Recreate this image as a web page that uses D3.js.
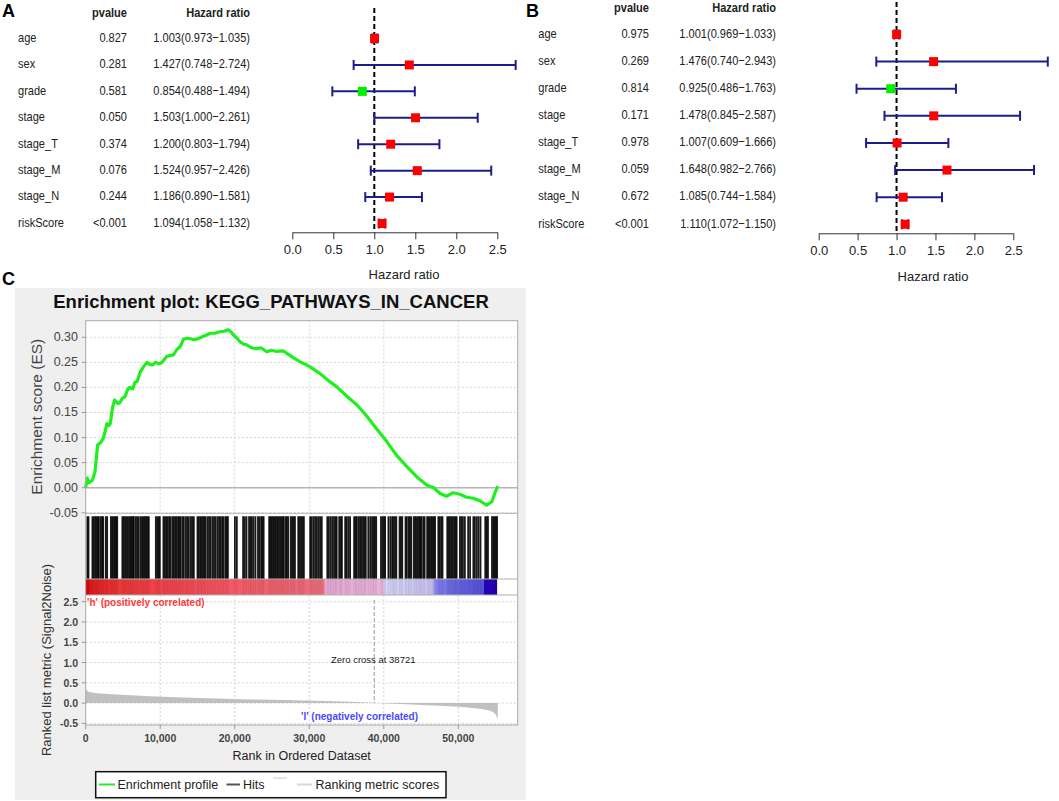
<!DOCTYPE html>
<html>
<head>
<meta charset="utf-8">
<script src="https://cdn.jsdelivr.net/npm/d3@7"></script>
<style>
  body { margin: 0; background: #fff; }
  text { font-family: "Liberation Sans", Arial, sans-serif; }
</style>
</head>
<body>
<div id="chart"></div>
<script>
// ---- forest plot data (panels A and B) ----
var factors = ["age", "sex", "grade", "stage", "stage_T", "stage_M", "stage_N", "riskScore"];

var pA    = ["0.827", "0.281", "0.581", "0.050", "0.374", "0.076", "0.244", "<0.001"];
var hrA   = [1.003, 1.427, 0.854, 1.503, 1.200, 1.524, 1.186, 1.094];
var lowA  = [0.973, 0.748, 0.488, 1.000, 0.803, 0.957, 0.890, 1.058];
var highA = [1.035, 2.724, 1.494, 2.261, 1.794, 2.426, 1.581, 1.132];

var pB    = ["0.975", "0.269", "0.814", "0.171", "0.978", "0.059", "0.672", "<0.001"];
var hrB   = [1.001, 1.476, 0.925, 1.478, 1.007, 1.648, 1.085, 1.110];
var lowB  = [0.969, 0.740, 0.486, 0.845, 0.609, 0.982, 0.744, 1.072];
var highB = [1.033, 2.943, 1.763, 2.587, 1.666, 2.766, 1.584, 1.150];

var hrTicks = [0, 0.5, 1, 1.5, 2, 2.5];

// ---- GSEA data (panel C), ranks in thousands ----
var esRank = [0, 0.2, 0.45, 0.6, 0.9, 1.25, 1.5, 1.6, 2.0, 2.4, 2.6, 2.85, 3.1, 3.3, 3.6, 3.9, 4.3, 4.6, 4.9, 5.3,
  5.6, 5.9, 6.3, 6.6, 6.9, 7.3, 7.7, 8.2, 8.6, 9.0, 9.4, 9.8, 10.2, 10.9, 11.4, 11.8, 12.2, 12.7, 13.1, 13.6,
  14.1, 14.6, 15.2, 15.8, 16.3, 16.7, 17.3, 18.0, 18.6, 19.1, 19.5, 19.8, 20.3, 20.7, 21.2, 21.6, 22.1, 22.5,
  23.0, 23.5, 24.3, 24.9, 25.5, 26.5, 27.3, 28.0, 28.8, 29.5, 30.1, 31.4, 32.8, 33.7, 35.0, 36.4, 37.7, 39.0,
  40.4, 41.7, 43.1, 44.4, 45.8, 46.7, 47.5, 48.4, 49.3, 50.2, 51.1, 52.0, 52.9, 53.8, 54.5, 54.9, 55.3];
var esValue = [0.000, 0.019, 0.010, 0.012, 0.015, 0.032, 0.070, 0.085, 0.090, 0.100, 0.112, 0.128, 0.124, 0.128,
  0.160, 0.175, 0.168, 0.170, 0.178, 0.182, 0.195, 0.200, 0.197, 0.210, 0.212, 0.230, 0.240, 0.250, 0.246, 0.245,
  0.250, 0.247, 0.249, 0.262, 0.264, 0.265, 0.275, 0.282, 0.296, 0.298, 0.297, 0.295, 0.298, 0.302, 0.305, 0.308,
  0.308, 0.311, 0.312, 0.315, 0.311, 0.305, 0.298, 0.291, 0.286, 0.285, 0.280, 0.278, 0.277, 0.279, 0.271, 0.274,
  0.272, 0.273, 0.265, 0.258, 0.251, 0.246, 0.241, 0.228, 0.211, 0.201, 0.183, 0.165, 0.143, 0.118, 0.092, 0.065,
  0.042, 0.022, 0.005, 0.000, -0.011, -0.017, -0.010, -0.013, -0.019, -0.021, -0.026, -0.035, -0.028, -0.011, 0.003];

var hitRanks = [0.22, 0.38, 0.90, 1.08, 1.27, 1.45, 1.62, 1.77, 2.02, 2.20, 2.35, 2.70, 2.88, 3.38, 3.55, 3.74,
  3.92, 4.08, 4.23, 4.92, 5.10, 5.28, 5.45, 5.66, 5.84, 6.02, 6.19, 6.35, 6.47, 6.73, 6.92, 7.13, 7.40, 7.58,
  7.77, 7.95, 8.12, 8.30, 8.47, 9.41, 9.60, 9.78, 9.95, 10.43, 10.62, 10.80, 11.00, 11.20, 11.39, 11.64, 11.83,
  12.02, 12.20, 12.40, 12.58, 12.74, 12.98, 13.17, 13.44, 13.64, 13.84, 14.11, 14.30, 14.51, 15.00, 15.18,
  15.37, 15.55, 15.74, 15.92, 16.08, 16.34, 16.55, 16.76, 17.01, 17.22, 17.43, 17.68, 17.90, 18.10,
  18.31, 18.50, 18.75, 18.92, 19.08, 20.02, 20.28, 21.12, 21.35, 21.58, 21.92, 22.10, 22.30, 22.52, 22.78,
  23.12, 23.32, 23.55, 23.72, 23.88, 24.62, 24.80, 24.98, 25.15, 25.34, 25.52, 25.70, 25.90, 26.08, 26.26,
  26.44, 26.58, 26.82, 27.00, 27.18, 27.52, 27.70, 27.90, 28.08, 28.52, 28.72, 28.90, 29.10, 29.28, 30.12,
  30.32, 30.55, 30.78, 31.02, 31.25, 31.46, 31.68, 32.42, 32.62, 32.85, 33.08, 33.32, 33.52, 33.68, 34.02,
  34.22, 34.38, 34.82, 35.02, 35.25, 35.48, 36.02, 36.22, 36.38, 36.62, 36.82, 37.02, 37.22, 37.42, 37.58,
  37.92, 38.18, 38.42, 38.62, 38.80, 38.98, 39.62, 39.82, 40.02, 40.18, 40.62, 40.88, 41.12, 41.30, 41.50,
  41.68, 42.12, 42.30, 42.48, 42.92, 43.08, 43.32, 43.50, 43.68, 44.02, 44.20, 44.38, 44.58, 44.76, 44.92,
  45.08, 45.32, 45.48, 45.82, 46.00, 46.18, 46.36, 46.55, 46.72, 46.88, 47.32, 47.50, 47.70, 47.88, 48.52,
  48.70, 48.88, 49.06, 49.25, 49.44, 49.62, 49.78, 50.22, 50.42, 50.62, 50.88, 51.32, 51.58, 52.02, 52.22,
  52.48, 52.72, 52.98, 53.62, 53.80, 53.98, 54.52, 54.70, 54.88, 55.05, 55.20];

var metricRank  = [0, 0.36, 1.48, 4.2, 8.6, 13.1, 17.6, 22.0, 26.5, 31.0, 35.5, 38.6, 38.72, 42.2, 46.7, 50.2, 52.9, 54.3, 54.9, 55.3, 55.3];
var metricValue = [0.34, 0.28, 0.24, 0.21, 0.17, 0.14, 0.115, 0.09, 0.074, 0.057, 0.033, 0.008, 0, -0.025, -0.057, -0.09, -0.14, -0.19, -0.25, -0.38, 0];

var barStopRank  = [0, 1.0, 5, 12, 20, 27, 32.0, 32.1, 36, 39.9, 40.0, 46.5, 47.0, 50, 53.4, 53.5, 55.2];
var barStopColor = ["#d40000", "#e02020", "#ec3a3a", "#f04850", "#f25a66", "#ec6874", "#e8707c", "#e8a8d4",
  "#e6b0d8", "#e8b4dc", "#d4d4f8", "#c8c8f4", "#8080f0", "#6464e0", "#5050d8", "#2800c0", "#2000b0"];

var esTicks = [-0.05, 0, 0.05, 0.10, 0.15, 0.20, 0.25, 0.30];
var metricTicks = [-0.5, 0, 0.5, 1.0, 1.5, 2.0, 2.5];
var rankTicks = [0, 10000, 20000, 30000, 40000, 50000];
var zeroCross = 38721;

var svg = d3.select("#chart").append("svg")
  .attr("width", 1059)
  .attr("height", 801);

svg.append("rect").attr("width", 1059).attr("height", 801).attr("fill", "#fff");

// table text in the forest panels is narrow, like the original
function narrowText(g, x, y, str, anchor, bold) {
  return g.append("text")
    .attr("transform", "translate(" + x + "," + y + ") scale(0.85,1)")
    .attr("text-anchor", anchor).attr("dominant-baseline", "central")
    .attr("font-size", 13).attr("font-weight", bold ? "bold" : "normal")
    .attr("fill", "#222").text(str);
}

// ---------------- forest panels ----------------
function forest(cfg, p, hr, low, high) {
  var g = svg.append("g");
  var x = d3.scaleLinear().domain([0, 2.5]).range([cfg.x0, cfg.x1]);
  var y = d3.scaleLinear().domain([0, factors.length - 1]).range([cfg.yTop, cfg.yBot]);

  g.append("text").attr("x", cfg.letterX).attr("y", 17)
    .attr("font-size", 18).attr("font-weight", "bold").text(cfg.letter);

  narrowText(g, cfg.pRight, cfg.headY, "pvalue", "end", true);
  narrowText(g, cfg.hrRight, cfg.headY, "Hazard ratio", "end", true);

  factors.forEach(function(f, i) {
    var yy = y(i) - 1;
    narrowText(g, cfg.labelX, yy, f, "start", false);
    narrowText(g, cfg.pRight, yy, p[i], "end", false);
    narrowText(g, cfg.hrRight, yy,
      hr[i].toFixed(3) + "(" + low[i].toFixed(3) + "\u2212" + high[i].toFixed(3) + ")", "end", false);
  });

  // reference line at HR = 1
  g.append("line").attr("x1", x(1)).attr("x2", x(1)).attr("y1", cfg.dashTop).attr("y2", cfg.axisY)
    .attr("stroke", "#000").attr("stroke-width", 2).attr("stroke-dasharray", "5,3");

  // confidence intervals
  factors.forEach(function(f, i) {
    var yy = y(i);
    g.append("line").attr("x1", x(low[i])).attr("x2", x(high[i])).attr("y1", yy).attr("y2", yy)
      .attr("stroke", "#1c1c8c").attr("stroke-width", 2);
    [low[i], high[i]].forEach(function(v) {
      g.append("line").attr("x1", x(v)).attr("x2", x(v)).attr("y1", yy - 5).attr("y2", yy + 5)
        .attr("stroke", "#1c1c8c").attr("stroke-width", 2);
    });
    g.append("rect").attr("x", x(hr[i]) - 4.5).attr("y", yy - 4.5).attr("width", 9).attr("height", 9)
      .attr("fill", hr[i] > 1 ? "#ff0000" : "#00ee00");
  });

  var axis = g.append("g").attr("transform", "translate(0," + cfg.axisY + ")")
    .call(d3.axisBottom(x).tickValues(hrTicks).tickFormat(d3.format(".1f")).tickSize(7).tickSizeOuter(0).tickPadding(5));
  axis.selectAll("path, line").attr("stroke", "#333");
  axis.selectAll("text").attr("font-size", 13).attr("fill", "#222")
    .style("font-family", "Liberation Sans, Arial, sans-serif");

  g.append("text").attr("x", cfg.titleX).attr("y", cfg.titleY).attr("text-anchor", "middle")
    .attr("dominant-baseline", "central").attr("font-size", 13).attr("fill", "#222").text("Hazard ratio");
}

forest({letter: "A", letterX: 2, labelX: 18, pRight: 127, hrRight: 250, x0: 292.3, x1: 497.3,
  yTop: 38.5, yBot: 223.5, headY: 12.5, axisY: 232.3, dashTop: 8, titleX: 404, titleY: 274}, pA, hrA, lowA, highA);
forest({letter: "B", letterX: 526, labelX: 538.3, pRight: 649, hrRight: 776, x0: 818.7, x1: 1013.3,
  yTop: 34.5, yBot: 224.3, headY: 8, axisY: 233.3, dashTop: 2, titleX: 933, titleY: 276}, pB, hrB, lowB, highB);

// ---------------- GSEA panel C ----------------
svg.append("text").attr("x", 2).attr("y", 285).attr("font-size", 18).attr("font-weight", "bold").text("C");

var c = svg.append("g");
c.append("rect").attr("x", 15).attr("y", 288).attr("width", 511).attr("height", 512).attr("fill", "#efefef");

c.append("text").attr("x", 271).attr("y", 308).attr("text-anchor", "middle")
  .attr("font-size", 18.5).attr("font-weight", "bold").attr("fill", "#111")
  .text("Enrichment plot: KEGG_PATHWAYS_IN_CANCER");

var left = 85.7, right = 517.7;
var esTop = 320.7, esBot = 513.3, hitBot = 579, barBot = 595, mBot = 725;

var x = d3.scaleLinear().domain([0, 57970]).range([left, right]);
var yEs = d3.scaleLinear().domain([-0.051, 0.333]).range([esBot, esTop]);
var yM = d3.scaleLinear().domain([-0.54, 2.665]).range([mBot, barBot]);

c.append("rect").attr("x", left).attr("y", esTop).attr("width", right - left).attr("height", mBot - esTop)
  .attr("fill", "#fff");

// grid
var grid = c.append("g").attr("stroke", "#d4d4d4").attr("stroke-dasharray", "2,2").attr("stroke-width", 1);
rankTicks.slice(1).forEach(function(t) {
  grid.append("line").attr("x1", x(t)).attr("x2", x(t)).attr("y1", esTop).attr("y2", esBot);
  grid.append("line").attr("x1", x(t)).attr("x2", x(t)).attr("y1", barBot).attr("y2", mBot);
});
esTicks.forEach(function(t) {
  if (t === 0) return;
  grid.append("line").attr("x1", left).attr("x2", right).attr("y1", yEs(t)).attr("y2", yEs(t));
});
metricTicks.forEach(function(t) {
  grid.append("line").attr("x1", left).attr("x2", right).attr("y1", yM(t)).attr("y2", yM(t));
});
c.append("line").attr("x1", left).attr("x2", right).attr("y1", yEs(0)).attr("y2", yEs(0))
  .attr("stroke", "#b4b4b4").attr("stroke-width", 1.5);

// enrichment profile
var esLine = d3.line().x(function(d, i) { return x(esRank[i] * 1000); }).y(function(d) { return yEs(d); });
c.append("path").datum(esValue).attr("d", esLine).attr("fill", "none")
  .attr("stroke", "#1ef01e").attr("stroke-width", 3.2).attr("stroke-linejoin", "round");

// hits
c.append("g").selectAll("line").data(hitRanks).enter().append("line")
  .attr("x1", function(d) { return x(d * 1000); })
  .attr("x2", function(d) { return x(d * 1000); })
  .attr("y1", esBot + 3).attr("y2", hitBot)
  .attr("stroke", "#000").attr("stroke-width", 1.8).attr("stroke-opacity", 0.9);

// colour bar
var grad = svg.append("defs").append("linearGradient").attr("id", "rankbar")
  .attr("gradientUnits", "userSpaceOnUse")
  .attr("x1", x(0)).attr("x2", x(55200)).attr("y1", 0).attr("y2", 0);
barStopRank.forEach(function(r, i) {
  grad.append("stop").attr("offset", r / 55.2).attr("stop-color", barStopColor[i]);
});
c.append("rect").attr("x", x(0)).attr("y", hitBot).attr("width", x(55200) - x(0)).attr("height", barBot - hitBot)
  .attr("fill", "url(#rankbar)");
c.append("g").selectAll("line").data(hitRanks).enter().append("line")
  .attr("x1", function(d) { return x(d * 1000); })
  .attr("x2", function(d) { return x(d * 1000); })
  .attr("y1", hitBot).attr("y2", barBot)
  .attr("stroke", "#400020").attr("stroke-width", 1).attr("stroke-opacity", 0.1);

// ranked list metric
var area = d3.area().x(function(d, i) { return x(metricRank[i] * 1000); })
  .y0(yM(0)).y1(function(d) { return yM(d); });
c.append("path").datum(metricValue).attr("d", area).attr("fill", "#c0c0c0");

c.append("line").attr("x1", x(zeroCross)).attr("x2", x(zeroCross)).attr("y1", 600).attr("y2", yM(0))
  .attr("stroke", "#999").attr("stroke-dasharray", "4,2");
c.append("text").attr("x", 331).attr("y", 662.5).attr("font-size", 9.5).attr("fill", "#222")
  .text("Zero cross at " + zeroCross);

c.append("text").attr("x", 87).attr("y", 605.5).attr("font-size", 10).attr("font-weight", "bold")
  .attr("fill", "#ff3a3a").text("'h' (positively correlated)");
c.append("text").attr("x", 301).attr("y", 719.5).attr("font-size", 10).attr("font-weight", "bold")
  .attr("fill", "#4a4aff").text("'l' (negatively correlated)");

// frames and separators
[esBot, hitBot, barBot].forEach(function(yy) {
  c.append("line").attr("x1", left).attr("x2", right).attr("y1", yy).attr("y2", yy)
    .attr("stroke", "#b0b0b0").attr("stroke-width", 1);
});
c.append("rect").attr("x", left).attr("y", esTop).attr("width", right - left).attr("height", mBot - esTop)
  .attr("fill", "none").attr("stroke", "#a8a8a8").attr("stroke-width", 1);

// axes
esTicks.forEach(function(t) {
  c.append("line").attr("x1", left - 4).attr("x2", left).attr("y1", yEs(t)).attr("y2", yEs(t)).attr("stroke", "#999");
  c.append("text").attr("x", 78).attr("y", yEs(t)).attr("text-anchor", "end").attr("dominant-baseline", "central")
    .attr("font-size", 12.5).attr("fill", "#444").text(t.toFixed(2));
});
metricTicks.forEach(function(t) {
  c.append("line").attr("x1", left - 4).attr("x2", left).attr("y1", yM(t)).attr("y2", yM(t)).attr("stroke", "#999");
  c.append("text").attr("x", 78).attr("y", yM(t)).attr("text-anchor", "end").attr("dominant-baseline", "central")
    .attr("font-size", 10.5).attr("font-weight", "bold").attr("fill", "#444").text(t.toFixed(1));
});
rankTicks.forEach(function(t) {
  c.append("line").attr("x1", x(t)).attr("x2", x(t)).attr("y1", mBot).attr("y2", mBot + 4).attr("stroke", "#999");
  c.append("text").attr("x", x(t)).attr("y", 737.5).attr("text-anchor", "middle").attr("dominant-baseline", "central")
    .attr("font-size", 10.5).attr("font-weight", "bold").attr("fill", "#444").text(d3.format(",")(t));
});

c.append("text").attr("transform", "translate(42,416.7) rotate(-90)").attr("text-anchor", "middle")
  .attr("font-size", 15.5).attr("fill", "#444").text("Enrichment score (ES)");
c.append("text").attr("transform", "translate(51,660) rotate(-90)").attr("text-anchor", "middle")
  .attr("font-size", 13).attr("fill", "#333").text("Ranked list metric (Signal2Noise)");
c.append("text").attr("x", 301.7).attr("y", 760).attr("text-anchor", "middle")
  .attr("font-size", 12.5).attr("fill", "#222").text("Rank in Ordered Dataset");

// legend
var lg = c.append("g");
lg.append("rect").attr("x", 95.7).attr("y", 771.7).attr("width", 350.3).attr("height", 26)
  .attr("fill", "#fff").attr("stroke", "#111").attr("stroke-width", 1.5);
lg.append("line").attr("x1", 99).attr("x2", 115).attr("y1", 784.5).attr("y2", 784.5).attr("stroke", "#22ee22").attr("stroke-width", 2);
lg.append("text").attr("x", 117.5).attr("y", 789).attr("font-size", 12.5).attr("fill", "#222").text("Enrichment profile");
lg.append("line").attr("x1", 226.5).attr("x2", 240).attr("y1", 784.5).attr("y2", 784.5).attr("stroke", "#555").attr("stroke-width", 2);
lg.append("text").attr("x", 243).attr("y", 789).attr("font-size", 12.5).attr("fill", "#222").text("Hits");
lg.append("line").attr("x1", 273).attr("x2", 287).attr("y1", 778).attr("y2", 778).attr("stroke", "#e4e4e4").attr("stroke-width", 2);
lg.append("line").attr("x1", 297).attr("x2", 312).attr("y1", 784.5).attr("y2", 784.5).attr("stroke", "#d8d8d8").attr("stroke-width", 2);
lg.append("text").attr("x", 315.5).attr("y", 789).attr("font-size", 12.5).attr("fill", "#222").text("Ranking metric scores");
</script>
</body>
</html>
